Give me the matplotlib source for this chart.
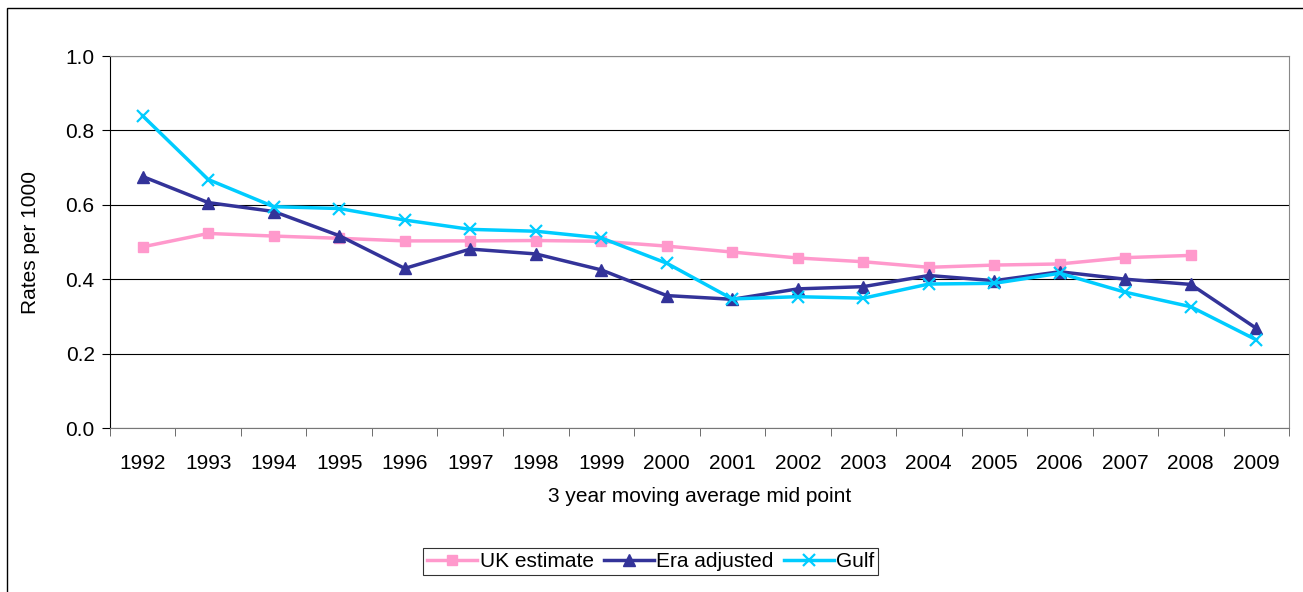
import matplotlib
matplotlib.use('Agg')
import matplotlib.pyplot as plt
import matplotlib.patches as mpatches
import numpy as np

plt.rcParams['font.family'] = ['Liberation Sans', 'DejaVu Sans']

# ── Data ─────────────────────────────────────────────────────────────────────
years = [1992, 1993, 1994, 1995, 1996, 1997, 1998, 1999, 2000,
         2001, 2002, 2003, 2004, 2005, 2006, 2007, 2008, 2009]
uk_estimate = [0.487, 0.523, 0.516, 0.510, 0.503, 0.503, 0.504, 0.502, 0.489,
               0.473, 0.457, 0.447, 0.432, 0.438, 0.441, 0.458, 0.464, np.nan]
era_adjusted = [0.676, 0.606, 0.582, 0.517, 0.429, 0.481, 0.468, 0.425, 0.356,
                0.346, 0.374, 0.380, 0.410, 0.396, 0.420, 0.400, 0.386, 0.268]
gulf = [0.839, 0.668, 0.595, 0.590, 0.559, 0.534, 0.529, 0.511, 0.443,
        0.347, 0.353, 0.349, 0.387, 0.389, 0.416, 0.365, 0.326, 0.237]

FS = 15
x = np.arange(len(years))

fig = plt.figure(figsize=(13.03, 5.92), dpi=100)
ax = fig.add_axes([0.0844, 0.277, 0.9049, 0.6284])

ax.plot(x, uk_estimate, color='#FF99CC', lw=2.5, marker='s', ms=7.5, label='UK estimate')
ax.plot(x, era_adjusted, color='#333399', lw=2.5, marker='^', ms=8.5, label='Era adjusted')
ax.plot(x, gulf, color='#00CCFF', lw=2.5, marker='x', ms=9, mew=1.6, label='Gulf')

ax.set_xlim(-0.5, len(years) - 0.5)
ax.set_ylim(0, 1.0)
ax.set_yticks(np.arange(0, 1.01, 0.2))
ax.set_yticklabels([f"{v:.1f}" for v in np.arange(0, 1.01, 0.2)], fontsize=FS)
ax.set_xticks(x)
ax.set_xticklabels([str(y) for y in years], fontsize=FS)
ax.set_xticks(np.arange(-0.5, len(years), 1.0), minor=True)
ax.tick_params(axis='x', which='major', length=0, pad=19)
ax.tick_params(axis='x', which='minor', length=6, direction='out', color='#555555')
ax.tick_params(axis='y', length=6, direction='out', pad=5)

ax.grid(True, axis='y', color='black', lw=0.8)
ax.set_axisbelow(True)
for s in ['top', 'right']:
    ax.spines[s].set_color('#888888')
ax.spines['bottom'].set_color('#777777')
ax.spines['left'].set_color('black')

ax.set_ylabel('Rates per 1000', fontsize=FS, labelpad=18)
ax.set_xlabel('3 year moving average mid point', fontsize=FS, labelpad=10)

leg = fig.legend(loc='center', bbox_to_anchor=(0.4995, 0.0515), ncol=3, fontsize=FS,
                 frameon=True, fancybox=False, handlelength=2.4, handletextpad=0.1,
                 columnspacing=0.5, borderpad=0.2, borderaxespad=0.0, edgecolor='black')
leg.get_frame().set_linewidth(0.8)

# outer chart border
fig.patches.append(mpatches.Rectangle((7 / 1303, -0.01), 1.0, 1 - 8 / 592 + 0.01,
                                      transform=fig.transFigure, fill=False,
                                      edgecolor='black', lw=1.0))

fig.savefig('out.png', dpi=100)
